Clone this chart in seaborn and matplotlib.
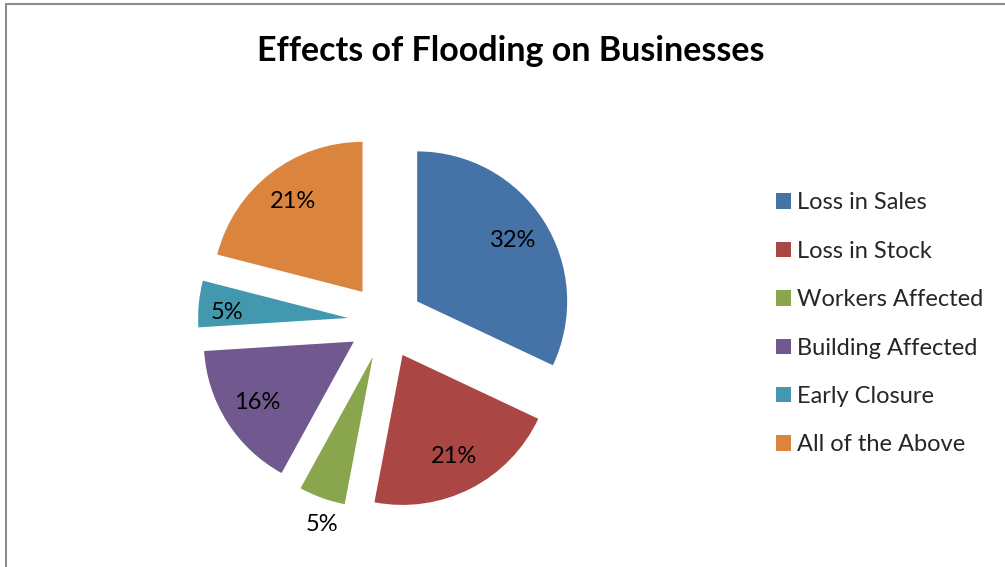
import matplotlib
matplotlib.use("Agg")
import matplotlib.pyplot as plt
from matplotlib.patches import Patch, Rectangle
import numpy as np
import seaborn as sns

categories = ["Loss in Sales", "Loss in Stock", "Workers Affected",
              "Building Affected", "Early Closure", "All of the Above"]
shares = [32, 21, 5, 16, 5, 21]
colors = ["#4572A7", "#AA4643", "#89A54E", "#71588F", "#4198AF", "#DB843D"]
title = "Effects of Flooding on Businesses"

sns.set_theme(style="white")
plt.rcParams["font.family"] = ["Lato", "DejaVu Sans"]

W, H = 1005, 567
fig = plt.figure(figsize=(W / 100, H / 100), dpi=100)
fig.patch.set_facecolor("white")

# outer chart frame (only top and left edges fall inside the canvas)
fig.add_artist(Rectangle((6 / W, -0.1), 1.2, (H - 4) / H + 0.1,
                         transform=fig.transFigure, fill=False,
                         edgecolor="#8c8c8c", linewidth=1.5))

# pie axes: 1 data unit = 150 px, centred at (385.5, 321.5) px
cx, cy, R = 385.5, 321.5, 150
span = 1.5
ax = fig.add_axes([(cx - span * R) / W, (H - cy - span * R) / H,
                   2 * span * R / W, 2 * span * R / H])
wedges, texts, autotexts = ax.pie(
    shares, colors=colors, startangle=90, counterclock=False,
    explode=[0.25] * len(shares), autopct="%1.0f%%", pctdistance=0.76,
    wedgeprops=dict(linewidth=0), textprops=dict(fontsize=17, color="black"))
ax.set_xlim(-span, span)
ax.set_ylim(-span, span)
ax.set_aspect("equal")
ax.axis("off")


def place_label(i, dist, turn=0.0):
    """Move a percentage label along its wedge's bisector (turn in degrees)."""
    w = wedges[i]
    mid = np.deg2rad((w.theta1 + w.theta2) / 2 + turn)
    autotexts[i].set_position((w.center[0] + dist * np.cos(mid),
                               w.center[1] + dist * np.sin(mid)))


# thin slices: "Workers Affected" labelled outside, "Early Closure" further out
place_label(2, 1.17, 3)
place_label(4, 0.81, 3)

fig.text(511 / W, 1 - 51 / H, title, ha="center", va="center",
         fontsize=24.5, fontweight="bold", color="black")

handles = [Patch(facecolor=c, edgecolor="none") for c in colors]
fig.legend(handles, categories, loc="upper left",
           bbox_to_anchor=(767 / W, 1 - 183 / H), frameon=False,
           fontsize=17, handlelength=0.62, handleheight=0.62,
           handletextpad=0.25, labelspacing=1.16, borderaxespad=0)

fig.savefig("out.png", dpi=100, facecolor="white")
